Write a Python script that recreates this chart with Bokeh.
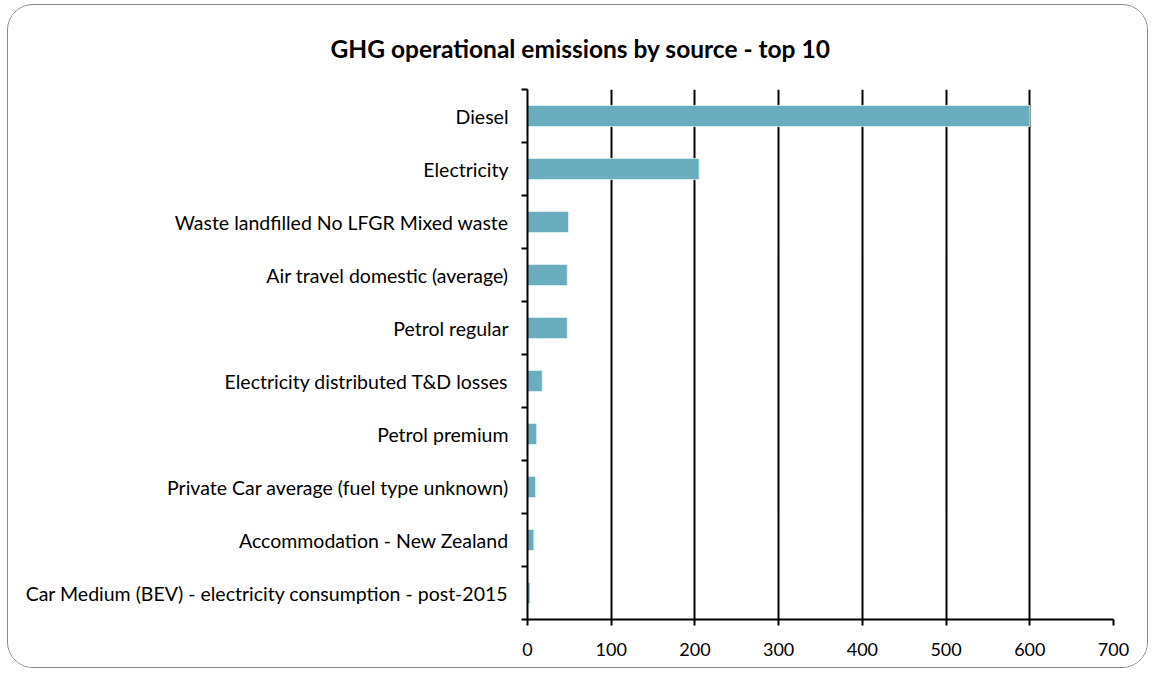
from bokeh.plotting import figure
from bokeh.models import FixedTicker, Range1d, Title, ColumnDataSource
from bokeh.embed import file_html
from bokeh.resources import INLINE

categories = [
    "Diesel",
    "Electricity",
    "Waste landfilled No LFGR Mixed waste",
    "Air travel domestic (average)",
    "Petrol regular",
    "Electricity distributed T&D losses",
    "Petrol premium",
    "Private Car average (fuel type unknown)",
    "Accommodation - New Zealand",
    "Car Medium (BEV) - electricity consumption - post-2015",
]
values = [600, 205, 49, 47.5, 47.5, 17.6, 11, 9.6, 7.6, 3.0]
x_ticks = [0, 100, 200, 300, 400, 500, 600, 700]
title_text = "GHG operational emissions by source - top 10"

n = len(categories)
centers = [n - 1 - i + 0.5 for i in range(n)]
bounds = list(range(n + 1))

FONT = "Lato"
BAR = "#6aadbf"

p = figure(width=1141, height=664, output_backend="svg", toolbar_location=None,
           x_range=Range1d(0, 700), y_range=Range1d(0, n),
           min_border_left=519, min_border_right=36, min_border_top=84, min_border_bottom=50)
p.styles = {"border": "1.5px solid #888888", "border-radius": "26px",
            "margin-left": "7px", "margin-top": "4px", "overflow": "hidden"}
p.outline_line_color = None
p.background_fill_color = "white"
p.border_fill_color = "white"

src = ColumnDataSource(dict(y=centers, v=values))
p.hbar(y="y", left=0, right="v", height=0.4, source=src,
       fill_color=BAR, line_color="#e6f2f5", line_width=0.8)

# x axis
p.xaxis.ticker = FixedTicker(ticks=x_ticks, minor_ticks=[])
p.xaxis.axis_line_color = "black"
p.xaxis.axis_line_width = 2
p.xaxis.major_tick_line_color = "black"
p.xaxis.major_tick_line_width = 2
p.xaxis.major_tick_in = 0
p.xaxis.major_tick_out = 6
p.xaxis.minor_tick_line_color = None
p.xaxis.major_label_text_font = FONT
p.xaxis.major_label_text_font_size = "18px"
p.xaxis.major_label_text_color = "black"
p.xaxis.major_label_standoff = 17

# y axis
p.yaxis.ticker = FixedTicker(ticks=centers, minor_ticks=bounds)
p.yaxis.major_label_overrides = {c: lab for c, lab in zip(centers, categories)}
p.yaxis.axis_line_color = "black"
p.yaxis.axis_line_width = 2
p.yaxis.major_tick_line_color = None
p.yaxis.minor_tick_line_color = "black"
p.yaxis.minor_tick_line_width = 2
p.yaxis.minor_tick_in = 0
p.yaxis.minor_tick_out = 6
p.yaxis.major_label_text_font = FONT
p.yaxis.major_label_text_font_size = "19.5px"
p.yaxis.major_label_text_color = "black"
p.yaxis.major_label_standoff = 13

p.xgrid.ticker = FixedTicker(ticks=x_ticks)
p.xgrid.grid_line_color = "black"
p.xgrid.grid_line_width = 2
p.ygrid.grid_line_color = None

title = Title(text=title_text, align="left", offset=-197, vertical_align="top",
              standoff=50, text_font=FONT, text_font_style="bold",
              text_font_size="24.5px", text_color="black")
p.add_layout(title, "above")

open("out.html", "w").write(file_html(p, INLINE))
